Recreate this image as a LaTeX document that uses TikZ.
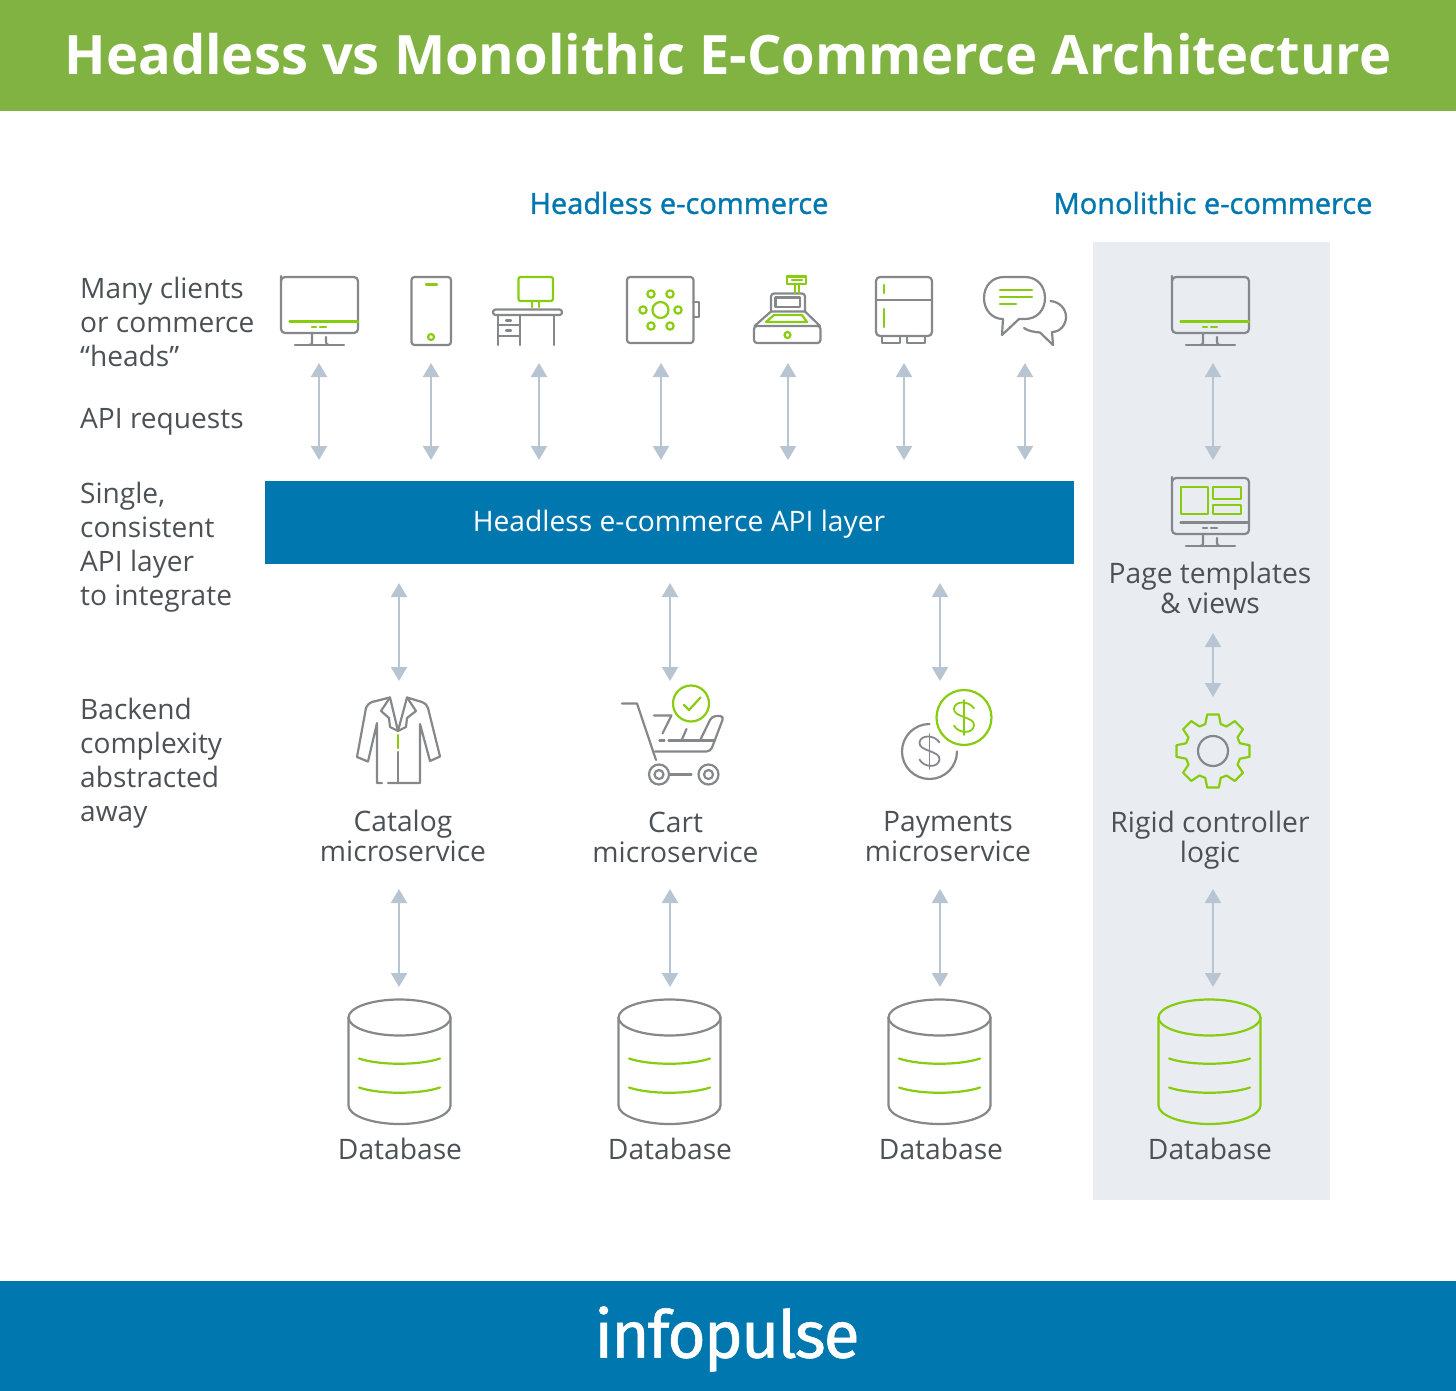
\documentclass[tikz,border=0pt]{standalone}
\usepackage{fontspec}
\setmainfont{Open Sans}
\newfontfamily\headfont[FakeBold=1.2]{Open Sans}
\newfontfamily\logofont[FakeBold=0.8,LetterSpace=-3]{Fira Sans}
\usetikzlibrary{arrows.meta}
\definecolor{bandgreen}{HTML}{80B341}
\definecolor{bandblue}{HTML}{0077AE}
\definecolor{panelgray}{HTML}{E9EDF2}
\definecolor{labelgray}{HTML}{4C5156}
\definecolor{icongray}{HTML}{85878A}
\definecolor{iconlime}{HTML}{88CC10}
\definecolor{shaftblue}{HTML}{B7C5D2}

\tikzset{
  iconline/.style={draw=icongray,line width=2.2pt,line join=round,line cap=round},
  limeline/.style={iconline,draw=iconlime},
  twoway/.style={{Triangle[width=16pt,length=14pt]}-{Triangle[width=16pt,length=14pt]},draw=shaftblue,line width=2pt},
  sidelabel/.style={anchor=north west,align=left,text=labelgray,inner sep=0pt,font=\fontsize{28.1}{34}\selectfont},
  caption/.style={align=center,text=labelgray,inner sep=0pt,font=\fontsize{28.2}{30}\selectfont},
  pics/monitor/.style={code={
    \draw [iconline] (0,3) [rounded corners=4pt] -- (0,56) -- (77,56) -- (77,0) -- (0,0) -- cycle;
    \draw [iconline] (31,56) -- (31,66) .. controls (31,67) and (30,68) .. (28,68);
    \draw [iconline] (45,60) -- (45,65) .. controls (45,67) and (46,68) .. (48,68);
    \draw [iconline] (14,68) -- (63,68);
    \draw [iconline,draw=#1] (8.5,44.5) -- (77,44.5);
    \draw [iconline,draw=#1] (31,50) -- (35,50) (39,50) -- (45,50);
  }},
  pics/database/.style={code={
    \draw [iconline,draw=#1] (0,0) ellipse [x radius=51,y radius=18];
    \draw [iconline,draw=#1] (-51,0) -- (-51,88) .. controls (-51,98) and (-28,106.5) .. (0,106.5) .. controls (28,106.5) and (51,98) .. (51,88) -- (51,0);
    \draw [limeline] (-40.5,41) .. controls (-20,48) and (20,48) .. (40.5,41);
    \draw [limeline] (-40.5,70) .. controls (-20,77) and (20,77) .. (40.5,70);
  }},
  pics/dollar/.style={code={
    \draw [iconline,draw=#1,line width=1.8pt] (0,-17.5) -- (0,17.5);
    \draw [iconline,draw=#1,line width=1.8pt] (10,-9) .. controls (5,-17) and (-9,-17) .. (-10,-9) .. controls (-11,0) and (11,-1) .. (10,8) .. controls (9,17) and (-6,16) .. (-10,8);
  }},
}

\begin{document}
\begin{tikzpicture}[x=1pt,y=-1pt]
\useasboundingbox (0,0) rectangle (1456,1391);

\node [fill=panelgray,minimum width=237pt,minimum height=958pt,inner sep=0pt] (panel) at (1211.5,721) {};
\node [fill=bandgreen,minimum width=1456pt,minimum height=111pt,inner sep=0pt] (titleband) at (728,55.5) {};
\node [text=white,inner sep=0pt,font=\bfseries\fontsize{54.3}{60}\selectfont] (title) at (728,54) {Headless vs Monolithic E-Commerce Architecture};
\node [fill=bandblue,minimum width=1456pt,minimum height=110pt,inner sep=0pt] (footband) at (728,1336) {};
\node [text=white,inner sep=0pt,font=\logofont\fontsize{66}{70}\selectfont] (footer) at (727,1339) {infopulse};
\node [fill=bandblue,minimum width=809pt,minimum height=83pt,inner sep=0pt] (apilayer) at (669.5,522.5) {};
\node [text=white,inner sep=0pt,font=\fontsize{28.2}{30}\selectfont] (apilabel) at (679,524) {Headless e-commerce API layer};

\node [text=bandblue,inner sep=0pt,font=\headfont\fontsize{29}{30}\selectfont] (headless) at (679,203) {Headless e-commerce};
\node [text=bandblue,inner sep=0pt,font=\headfont\fontsize{29}{30}\selectfont] (monolithic) at (1213,203) {Monolithic e-commerce};

\node [sidelabel] (heads) at (80,277) {Many clients\\or commerce\\“heads”};
\node [sidelabel] (requests) at (80,408) {API requests};
\node [sidelabel] (single) at (80,482) {Single,\\consistent\\API layer\\to integrate};
\node [sidelabel] (backend) at (80,698) {Backend\\complexity\\abstracted\\away};

\node [caption] (catalog) at (403,836) {Catalog\\microservice};
\node [caption] (cart) at (675.5,837) {Cart\\microservice};
\node [caption] (payments) at (948,837) {Payments\\microservice};
\node [caption] (templates) at (1210,588) {Page templates\\\& views};
\node [caption] (controller) at (1210,840) {Rigid controller\\logic};
\foreach \x/\n in {400/dba,670/dbb,941/dbc,1210/dbd}
  \node [caption] (\n) at (\x,1149) {Database};

% clients
\pic at (281,277) {monitor=iconlime};

\draw [iconline,rounded corners=3pt] (411.5,277) rectangle (451,345);
\draw [limeline] (426,284.5) -- (437,284.5);
\draw [limeline] (431,337) circle (3pt);

\draw [limeline,rounded corners=2pt] (518.5,277) rectangle (553,301);
\draw [limeline] (532,301) -- (532,307) (539,301) -- (539,307);
\draw [iconline,rounded corners=2.5pt] (493,309.5) rectangle (562,315);
\draw [iconline] (498,315) -- (498,345) (520,315) -- (520,345) (554,315) -- (554,345);
\draw [iconline] (498,325) -- (520,325) (498,336) -- (520,336);
\draw [iconline] (506,320.5) -- (511,320.5) (506,330.5) -- (511,330.5);

\draw [iconline,rounded corners=3pt] (627,277) rectangle (693.5,343);
\draw [iconline] (693.5,302) -- (699,302) -- (699,317) -- (693.5,317);
\draw [limeline] (660.5,310) circle (8pt);
\foreach \x/\y in {651/294,670/294,643/310,678/310,651/326,670/326}
  \draw [limeline] (\x,\y) circle (3.7pt);

\draw [iconline,rounded corners=3pt] (754,326) rectangle (820.5,343);
\draw [iconline] (754.5,326) -- (771,311.5) -- (805,311.5) -- (820,326);
\draw [iconline,rounded corners=3pt] (771,311.5) -- (771,293.5) -- (805,293.5) -- (805,311.5);
\draw [iconline] (775.5,297.5) rectangle (800,307);
\draw [limeline] (766,322) -- (774,315) -- (802,315) -- (807,322) -- cycle;
\draw [limeline] (787,276.5) rectangle (806,284);
\draw [limeline] (792,280) -- (802,280);
\draw [limeline] (795,284) -- (795,293) (799,284) -- (799,293);
\draw [limeline] (787.5,335) circle (3pt);

\draw [iconline,rounded corners=4pt] (876,277) rectangle (932,336);
\draw [iconline] (876,300) -- (932,300);
\draw [iconline] (882,336) -- (882,343) -- (900,343) -- (900,336);
\draw [iconline] (907,336) -- (907,343) -- (925,343) -- (925,336);
\draw [limeline] (884,285) -- (884,293) (884,309) -- (884,327);

\draw [iconline] (1003,319) -- (1002,335) -- (1019,319) -- (1025,319) .. controls (1037,319) and (1045,310) .. (1045,298) .. controls (1045,286) and (1037,277) .. (1025,277) -- (1004,277) .. controls (992,277) and (984,286) .. (984,298) .. controls (984,310) and (992,319) .. (1003,319);
\draw [iconline] (1050.5,301) .. controls (1060,302) and (1066,309) .. (1066,317) .. controls (1066,325) and (1060,332) .. (1052,332) -- (1053,345) -- (1040,332.5) .. controls (1034,332) and (1028,331) .. (1024,328);
\draw [limeline] (1000,290) -- (1032,290) (1000,297) -- (1032,297) (1000,304) -- (1016,304);

% monolith
\pic at (1172,277) {monitor=iconlime};
\pic at (1172,478) {monitor=icongray};
\draw [limeline] (1181,487) rectangle (1208,514);
\draw [limeline] (1213,487) rectangle (1241,499);
\draw [limeline] (1213,505) rectangle (1241,514);

\draw [iconline] (1213,751) circle (15pt);
\begin{scope}[shift={(1213,751)}]
\draw [limeline] (-16:28) \foreach \a in {0,45,...,315} { -- (\a-16:28) -- (\a-9:37) -- (\a+9:37) -- (\a+16:28) } -- cycle;
\end{scope}

% backend
\draw [iconline] (390,697.5) -- (372,702) .. controls (369,703) and (367,705) .. (366,708) -- (357,757) -- (368,761.5) -- (377,723) -- (377,783) -- (382,783);
\draw [iconline] (388,783) -- (420,783) -- (420,724) -- (430,761) -- (440,756.5) -- (428,708) .. controls (427,705) and (425,703) .. (422,702) -- (407,697.5);
\draw [iconline] (398,783) -- (398,752);
\draw [iconline] (390,697.5) -- (398,731) -- (407,697.5);
\draw [iconline] (390,697.5) -- (381,711) -- (389,718) -- (390,727) -- (398,731);
\draw [iconline] (407,697.5) -- (416,711) -- (407,718) -- (406,727) -- (398,731);
\draw [limeline] (398.3,735) -- (398.3,748);

\draw [iconline] (622,703.5) -- (637,703.5) -- (656,760);
\draw [iconline,rounded corners=4pt] (655,751.5) -- (710.5,751.5) -- (724,716) -- (712,716) -- (700,740.5);
\draw [iconline] (668.5,740.5) -- (715,740.5) (659.5,740.5) -- (664.5,740.5);
\draw [iconline] (654,715.5) -- (671.5,715.5) -- (662.5,733.5);
\draw [iconline] (686.5,729) -- (681.5,740.5);
\draw [iconline] (659,774.5) circle (10pt) (659,774.5) circle (4.5pt);
\draw [iconline] (708.5,774.5) circle (10pt) (708.5,774.5) circle (4.5pt);
\draw [iconline] (670,774.5) -- (691.5,774.5);
\draw [limeline] (691,703.5) circle (18pt);
\draw [limeline] (684,705) -- (689,710) -- (700.5,697.5);

\draw [limeline] (964,717.5) circle (27.5pt);
\draw [iconline] (957,751.5) arc [start angle=0,end angle=270,radius=27.5];
\pic at (964,717.5) {dollar=iconlime};
\pic at (929.5,751.5) {dollar=icongray};

\pic at (399.5,1017.5) {database=icongray};
\pic at (669.5,1017.5) {database=icongray};
\pic at (939.5,1017.5) {database=icongray};
\pic at (1209.5,1017.5) {database=iconlime};

% connectors
\foreach \x/\n in {319/a,431/b,539/c,661/d,788/e,904/f,1025/g,1213/h} {
  \coordinate (\n top) at (\x,363);
  \coordinate (\n bot) at (\x,460);
  \draw [twoway] (\n top) -- (\n bot);
}
\foreach \x/\n in {399/a,670/b,940/c} {
  \coordinate (\n api) at (\x,583);
  \coordinate (\n svc) at (\x,681);
  \draw [twoway] (\n api) -- (\n svc);
}
\foreach \x/\n in {399/a,670/b,940/c,1213/d} {
  \coordinate (\n low) at (\x,889);
  \coordinate (\n data) at (\x,987);
  \draw [twoway] (\n low) -- (\n data);
}
\coordinate (viewtop) at (1213,633);
\coordinate (viewbot) at (1213,697);
\draw [twoway] (viewtop) -- (viewbot);
\end{tikzpicture}
\end{document}
